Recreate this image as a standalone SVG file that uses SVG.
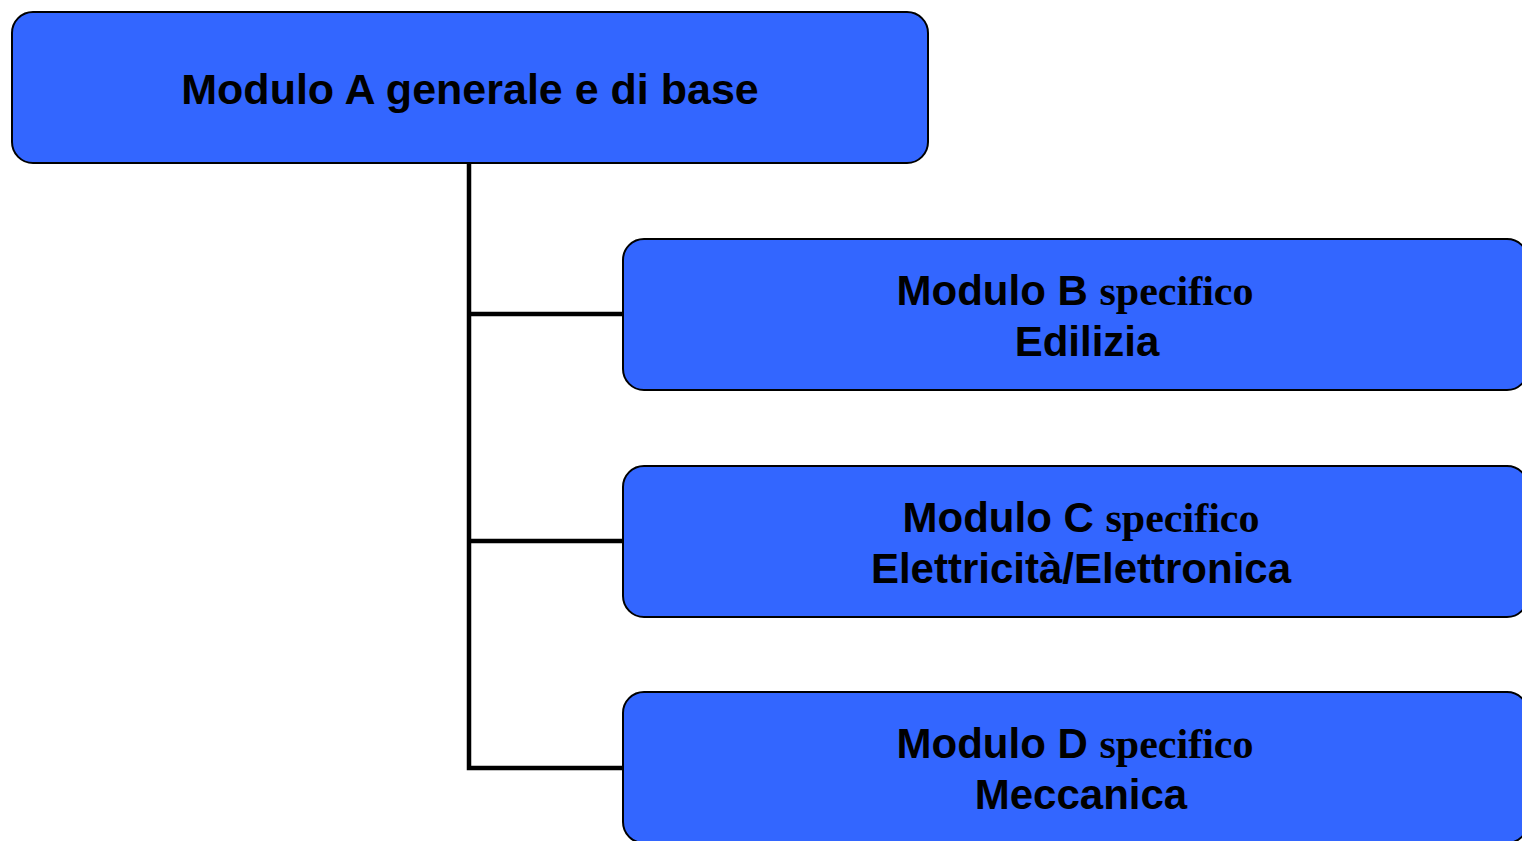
<svg xmlns="http://www.w3.org/2000/svg" width="1522" height="841" viewBox="0 0 1522 841">
<style>
.box{fill:#3366FF;stroke:#000;stroke-width:2}
.conn{fill:none;stroke:#000;stroke-width:4.5;stroke-linejoin:miter}
.t{font-family:"Liberation Sans",Arial,sans-serif;font-weight:bold;font-size:42px;fill:#000;text-anchor:middle}
.s{font-family:"Liberation Serif","Times New Roman",serif;font-weight:bold}
</style>
<rect width="1522" height="841" fill="#fff"/>
<g id="connectors">
<path class="conn" d="M469 163 V768 H623 M469 314 H623 M469 541 H623"/>
</g>
<g id="nodeA">
<rect class="box" x="12" y="12" width="916" height="151" rx="21"/>
<text class="t" x="470" y="104" style="font-size:43px">Modulo A generale e di base</text>
</g>
<g id="nodeB">
<rect class="box" x="623" y="239" width="905" height="151" rx="21"/>
<text class="t" x="1075" y="305">Modulo B <tspan class="s">specifico</tspan></text>
<text class="t" x="1087" y="356">Edilizia</text>
</g>
<g id="nodeC">
<rect class="box" x="623" y="466" width="905" height="151" rx="21"/>
<text class="t" x="1081" y="532">Modulo C <tspan class="s">specifico</tspan></text>
<text class="t" x="1081" y="583">Elettricità/Elettronica</text>
</g>
<g id="nodeD">
<rect class="box" x="623" y="692" width="905" height="151" rx="21"/>
<text class="t" x="1075" y="758">Modulo D <tspan class="s">specifico</tspan></text>
<text class="t" x="1081" y="809">Meccanica</text>
</g>
</svg>
